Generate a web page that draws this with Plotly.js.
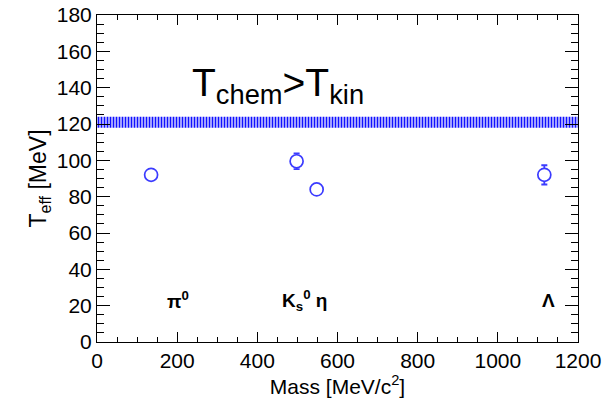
<!DOCTYPE html>
<html><head><meta charset="utf-8">
<script src="https://cdn.plot.ly/plotly-3.0.1.min.js"></script>
<style>html,body{margin:0;padding:0;background:#fff}</style>
</head><body>
<div id="chart" style="width:612px;height:398px"></div>
<script>
// Particle data
const particles = ["π0", "K0s", "η", "Λ"];
const mass = [135, 498, 548, 1116];
const teff = [92, 99.5, 84, 92];
const teffErr = [1, 4.3, 1, 5.3];

// Hatched band (T_chem > T_kin)
const bandX = [0, 1200];
const bandLow = [118, 118];
const bandHigh = [124, 124];

// Label texts
const labelTexts = ["π<sup>0</sup>", "K<sub>s</sub><sup>0</sup> η", "Λ"];
const labelX = [202, 517, 1126];
const labelY = [23, 23, 23];

const blue = "#3b3bff";
const FONT = "Liberation Sans, Arial, Helvetica";
const band = {
  x: [bandX[0], bandX[1], bandX[1], bandX[0], bandX[0]],
  y: [bandLow[0], bandLow[1], bandHigh[1], bandHigh[0], bandLow[0]],
  mode: "lines", fill: "toself", line: {width: 0, color: "rgba(0,0,0,0)"},
  fillcolor: "rgba(255,255,255,0)",
  fillpattern: {shape: "|", fgcolor: "#1010ff", bgcolor: "rgba(255,255,255,0)", size: 3, solidity: 0.6},
  hoverinfo: "skip", showlegend: false
};
const pts = {
  x: mass, y: teff, mode: "markers", type: "scatter",
  marker: {symbol: "circle", size: 13, color: "#fff", line: {width: 1.7, color: blue}},
  error_y: {type: "data", array: teffErr, visible: true, color: blue, thickness: 1.8, width: 3},
  showlegend: false
};
const ann = labelTexts.map((t, i) => ({
  x: labelX[i], y: labelY[i], xref: "x", yref: "y", text: t, showarrow: false,
  font: {family: FONT, size: 19, color: "#000", weight: "bold"}, xanchor: "center", yanchor: "middle"
}));
ann.push({x: 231, y: 141, xref: "x", yref: "y", text: "T<sub>chem</sub>>T<sub>kin</sub>", showarrow: false,
  font: {family: FONT, size: 39, color: "#000"}, xanchor: "left", yanchor: "middle"});

const axisCommon = {
  showline: true, linecolor: "#000", linewidth: 1, mirror: "allticks",
  ticks: "inside", tickcolor: "#000", tickwidth: 1,
  showgrid: false, zeroline: false,
  tickfont: {family: FONT, size: 21, color: "#000"}
};
const layout = {
  width: 612, height: 398,
  margin: {l: 97, r: 34, t: 15, b: 56},
  paper_bgcolor: "#fff", plot_bgcolor: "#fff",
  xaxis: Object.assign({}, axisCommon, {
    range: [0, 1200], dtick: 200, tick0: 0, ticklen: 10,
    minor: {dtick: 50, ticks: "inside", ticklen: 5, tickcolor: "#000", showgrid: false},
    title: {text: "Mass [MeV/c<sup>2</sup>]", font: {family: FONT, size: 21, color: "#000"}, standoff: 1}
  }),
  yaxis: Object.assign({}, axisCommon, {
    range: [0, 180], dtick: 20, tick0: 0, ticklen: 13,
    minor: {dtick: 5, ticks: "inside", ticklen: 7, tickcolor: "#000", showgrid: false},
    title: {text: "T<sub>eff</sub> [MeV]", font: {family: FONT, size: 23, color: "#000"}, standoff: 3}
  }),
  annotations: ann
};
Plotly.newPlot("chart", [band, pts], layout, {staticPlot: true, displayModeBar: false});
</script>
</body></html>
